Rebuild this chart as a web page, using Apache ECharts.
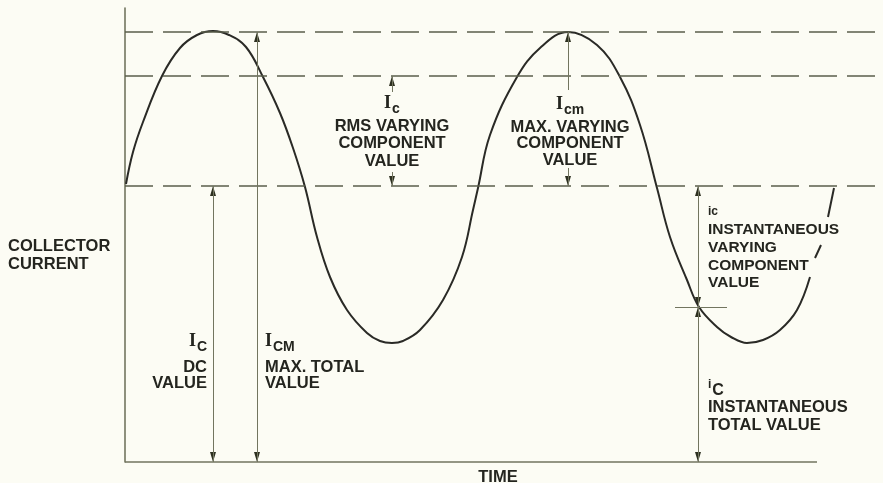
<!DOCTYPE html>
<html>
<head>
<meta charset="utf-8">
<title>Collector current</title>
<script src="https://cdn.jsdelivr.net/npm/echarts@6/dist/echarts.min.js"></script>
<style>
    html, body { margin: 0; padding: 0; background: #fcfcf4; }
    #chartDiv { width: 883px; height: 483px; }
</style>
</head>
<body>
<div id="chartDiv"></div>
<script>
    // trace: time from the start of the trace, current from zero
    // '-' = the trace is broken where the lettering crosses it
    var timePts = [1, 8, 18, 37, 55, 72, 88, 104, 121, 138, 155, 168, 180, 192, 205, 222, 242, 255, 267, 278, 295, 318,
        337, 348, 353, 365, 392, 415, 443, 472, 495, 515, 532, 545, 562, 574, 592, 606, 622, 638, 655, 672, 685,
        687, 690, 696, 699, 703, 709];
    var currentPts = [278, 310, 340, 386, 414, 427, 431, 427, 415, 385, 349, 314, 275, 225, 185, 152, 129, 121, 119, 121, 132, 162,
        205, 252, 274, 327, 385, 414, 430, 417, 385, 337, 274, 225, 182, 155, 135, 125, 119, 122, 132, 152, 185,
        '-', 204, 217, '-', 245, 274];

    // dashed levels: max total, rms, dc
    var levelValues = [430, 386, 276];

    // dimension arrows
    var arrowTime = [88, 132, 267, 267, 443, 443, 573, 573];
    var arrowFrom = [276, 430, 386, 290, 430, 294, 276, 155];
    var arrowTo = [0, 0, 370, 276, 372, 276, 155, 0];
    var arrowHeads = ['both', 'both', 'from', 'to', 'from', 'to', 'both', 'both'];

    // lettering
    var labelText = ['COLLECTOR', 'CURRENT',
        '{b|I}{s|C}', 'DC', 'VALUE',
        '{b|I}{s|CM}', 'MAX. TOTAL', 'VALUE',
        '{b|I}{s|c}', 'RMS VARYING', 'COMPONENT', 'VALUE',
        '{b|I}{s|cm}', 'MAX. VARYING', 'COMPONENT', 'VALUE',
        '{t|ic}', 'INSTANTANEOUS', 'VARYING', 'COMPONENT', 'VALUE',
        '{t|i}{u|C}', 'INSTANTANEOUS', 'TOTAL VALUE',
        'TIME'];
    var labelTime = [-117, -117,
        82, 82, 82,
        140, 140, 140,
        267, 267, 267, 267,
        445, 445, 445, 445,
        583, 583, 583, 583, 583,
        583, 583, 583,
        373];
    var labelCurrent = [216, 198,
        119, 95, 79,
        119, 95, 79,
        357, 336, 319, 301,
        356, 335, 319, 302,
        250, 232, 214, 196, 179,
        73, 55, 37,
        -15];
    var labelAlign = ['left', 'left',
        'right', 'right', 'right',
        'left', 'left', 'left',
        'center', 'center', 'center', 'center',
        'center', 'center', 'center', 'center',
        'left', 'left', 'left', 'left', 'left',
        'left', 'left', 'left',
        'center'];
    var labelSize = [16.5, 16.5, 16.5, 16.5, 16.5, 16.5, 16.5, 16.5, 16.5, 16.5, 16.5, 16.5, 16.5, 16.5, 16.5, 16.5,
        15.5, 15.5, 15.5, 15.5, 15.5, 16.5, 16.5, 16.5, 16.5];

    var ink = '#24251f';
    var rule = '#72755f';
    var face = 'Liberation Sans';

    var trace = timePts.map(function (t, i) {
        return [t, currentPts[i]];
    });

    var levelLines = levelValues.map(function (v) {
        return {yAxis: v};
    });

    var arrowLines = arrowTime.map(function (t, i) {
        return [{coord: [t, arrowFrom[i]]}, {coord: [t, arrowTo[i]]}];
    });
    // base line of the time axis and the tick at the instantaneous point
    arrowLines.push([{coord: [0, 0]}, {coord: [692, 0], lineStyle: {width: 1.6, color: rule}}]);
    arrowLines.push([{coord: [550, 155]}, {coord: [602, 155]}]);

    // arrowheads, tip on the end of each dimension line
    var upHead = 'path://M5,0L10,20L0,20Z';
    var downHead = 'path://M0,0L10,0L5,20Z';
    var heads = [];
    arrowTime.forEach(function (t, i) {
        var h = arrowHeads[i];
        var ends = [];
        if (h === 'both' || h === 'from') ends.push([arrowFrom[i], arrowTo[i]]);
        if (h === 'both' || h === 'to') ends.push([arrowTo[i], arrowFrom[i]]);
        ends.forEach(function (e) {
            var up = e[0] > e[1];
            heads.push({
                value: [t, e[0]],
                symbol: up ? upHead : downHead,
                symbolOffset: [0, up ? 5 : -5]
            });
        });
    });

    var labels = labelText.map(function (s, i) {
        return {
            value: [labelTime[i], labelCurrent[i]],
            label: {formatter: s, align: labelAlign[i], fontSize: labelSize[i]}
        };
    });

    var richBase = {fontWeight: 'bold', fontFamily: face, color: ink, textBorderWidth: 0, opacity: 1};
    function rich(extra) {
        return Object.assign({}, richBase, extra);
    }

    var chart = echarts.init(document.getElementById('chartDiv'));
    chart.setOption({
        backgroundColor: '#fcfcf4',
        animation: false,
        grid: {left: 125, right: 0, top: 8, bottom: 21},
        xAxis: {
            type: 'value', min: 0, max: 758,
            axisLine: {show: false}, axisTick: {show: false},
            axisLabel: {show: false}, splitLine: {show: false}
        },
        yAxis: {
            type: 'value', min: 0, max: 454,
            axisLine: {show: true, lineStyle: {color: rule, width: 1.6}},
            axisTick: {show: false}, axisLabel: {show: false}, splitLine: {show: false}
        },
        series: [
            {
                name: 'levels',
                type: 'line',
                data: [],
                markLine: {
                    silent: true,
                    symbol: 'none',
                    label: {show: false},
                    lineStyle: {color: '#5a5d4b', width: 1.6, type: [28, 10]},
                    data: levelLines
                }
            },
            {
                name: 'arrows',
                type: 'line',
                data: [],
                markLine: {
                    silent: true,
                    symbol: 'none',
                    label: {show: false},
                    lineStyle: {color: rule, width: 1, type: 'solid'},
                    data: arrowLines
                }
            },
            {
                name: 'heads',
                type: 'scatter',
                data: heads,
                symbolSize: [6, 10],
                clip: false,
                silent: true,
                itemStyle: {color: '#2d3020', opacity: 1}
            },
            {
                name: 'collector current',
                type: 'line',
                data: trace,
                smooth: 0.4,
                showSymbol: false,
                connectNulls: false,
                silent: true,
                lineStyle: {color: '#2a2a26', width: 2}
            },
            {
                name: 'lettering',
                type: 'scatter',
                symbolSize: 0,
                clip: false,
                silent: true,
                data: labels,
                itemStyle: {opacity: 1},
                label: {
                    show: true,
                    position: 'inside',
                    verticalAlign: 'middle',
                    color: ink,
                    opacity: 1,
                    textBorderWidth: 0,
                    fontFamily: face,
                    fontWeight: 'bold',
                    rich: {
                        b: rich({fontSize: 18, fontFamily: 'Liberation Serif', verticalAlign: 'top', padding: [0, 1, 4, 0]}),
                        s: rich({fontSize: 14, verticalAlign: 'bottom'}),
                        t: rich({fontSize: 12, verticalAlign: 'top', padding: [0, 1, 0, 0]}),
                        u: rich({fontSize: 16, verticalAlign: 'bottom', padding: [4, 0, 0, 0]})
                    }
                }
            }
        ]
    });
</script>
</body>
</html>
